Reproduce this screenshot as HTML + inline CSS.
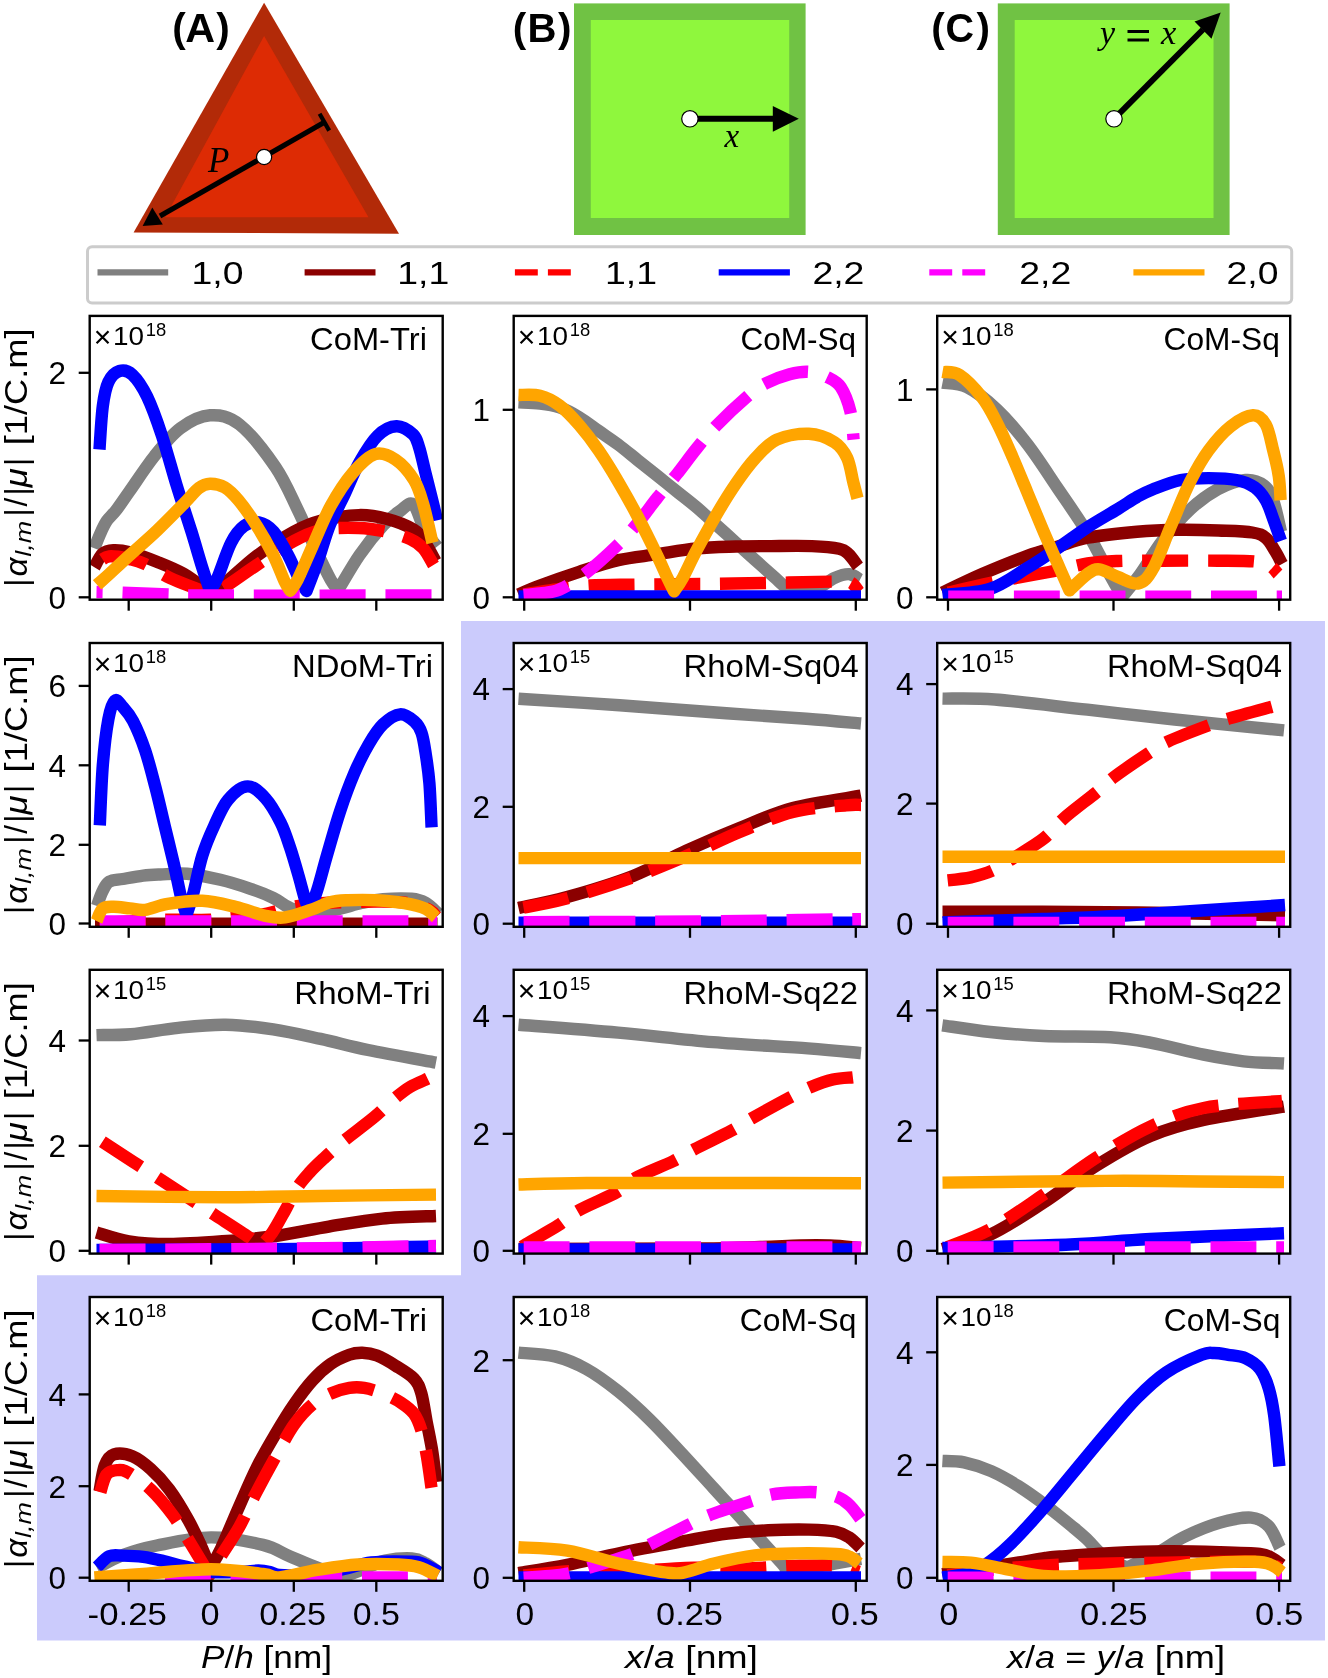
<!DOCTYPE html><html><head><meta charset="utf-8"><style>html,body{margin:0;padding:0;background:#fff;}svg{display:block;will-change:transform}</style></head><body>
<svg width="1328" height="1678" viewBox="0 0 1328 1678">
<rect x="0" y="0" width="1328" height="1678" fill="#ffffff"/>
<path d="M461,621 L1325,621 L1325,1640.5 L37,1640.5 L37,1275.3 L461,1275.3 Z" fill="#cbcbfc"/>
<path d="M264.1,2.7 L399,233.8 L133.6,232.4 Z" fill="#b22a08"/>
<path d="M264.1,36 L368.5,217.3 L165.2,217.3 Z" fill="#dd2b04"/>
<line x1="324.4" y1="122.3" x2="160" y2="216" stroke="#000" stroke-width="5.2"/>
<path d="M142.6,225.9 L152.3,207.5 L162.8,224.6 Z" fill="#000"/>
<line x1="319.6" y1="113.8" x2="329.2" y2="130.6" stroke="#000" stroke-width="4.2"/>
<circle cx="264.1" cy="157" r="7.6" fill="#fff" stroke="#000" stroke-width="1.2"/>
<text x="208" y="171.5" font-size="35" text-anchor="start" font-weight="normal" font-style="italic" font-family='"Liberation Serif", serif'>P</text>
<text x="172.3" y="41.7" font-size="40.5" text-anchor="start" font-weight="bold" font-style="normal" font-family='"Liberation Sans", sans-serif'>(</text>
<text x="185.2" y="41.7" font-size="40.5" text-anchor="start" font-weight="bold" font-style="normal" font-family='"Liberation Sans", sans-serif' textLength="29.8" lengthAdjust="spacingAndGlyphs">A</text>
<text x="216.3" y="41.7" font-size="40.5" text-anchor="start" font-weight="bold" font-style="normal" font-family='"Liberation Sans", sans-serif'>)</text>
<rect x="574" y="3.4" width="231.6" height="231.6" fill="#70c244"/>
<rect x="590.8" y="20" width="198.4" height="198" fill="#8ff73d"/>
<line x1="690" y1="118.8" x2="775" y2="118.8" stroke="#000" stroke-width="6"/>
<path d="M798.8,118.8 L772.8,106 L772.8,131.8 Z" fill="#000"/>
<circle cx="689.9" cy="118.8" r="8.2" fill="#fff" stroke="#000" stroke-width="1.2"/>
<text x="724.5" y="147" font-size="33" text-anchor="start" font-weight="normal" font-style="italic" font-family='"Liberation Serif", serif'>x</text>
<text x="512.7" y="41.7" font-size="40.5" text-anchor="start" font-weight="bold" font-style="normal" font-family='"Liberation Sans", sans-serif'>(</text>
<text x="527.5" y="41.7" font-size="40.5" text-anchor="start" font-weight="bold" font-style="normal" font-family='"Liberation Sans", sans-serif' textLength="29" lengthAdjust="spacingAndGlyphs">B</text>
<text x="558" y="41.7" font-size="40.5" text-anchor="start" font-weight="bold" font-style="normal" font-family='"Liberation Sans", sans-serif'>)</text>
<rect x="997.8" y="3.4" width="231.8" height="231.6" fill="#70c244"/>
<rect x="1014.7" y="20" width="198.8" height="198" fill="#8ff73d"/>
<line x1="1114" y1="118.8" x2="1203" y2="29.5" stroke="#000" stroke-width="6"/>
<path d="M1220.7,12.5 L1194.5,21.5 L1211.5,38.7 Z" fill="#000"/>
<circle cx="1114" cy="118.8" r="8.2" fill="#fff" stroke="#000" stroke-width="1.2"/>
<text x="1100" y="43.7" font-size="34" text-anchor="start" font-weight="normal" font-style="italic" font-family='"Liberation Serif", serif'>y</text>
<rect x="1127.5" y="30" width="21.5" height="3" fill="#000"/><rect x="1127.5" y="38.5" width="21.5" height="3" fill="#000"/>
<text x="1161" y="43.7" font-size="34.5" text-anchor="start" font-weight="normal" font-style="italic" font-family='"Liberation Serif", serif'>x</text>
<text x="931.2" y="41.7" font-size="40.5" text-anchor="start" font-weight="bold" font-style="normal" font-family='"Liberation Sans", sans-serif'>(</text>
<text x="945.5" y="41.7" font-size="40.5" text-anchor="start" font-weight="bold" font-style="normal" font-family='"Liberation Sans", sans-serif' textLength="28.5" lengthAdjust="spacingAndGlyphs">C</text>
<text x="976.5" y="41.7" font-size="40.5" text-anchor="start" font-weight="bold" font-style="normal" font-family='"Liberation Sans", sans-serif'>)</text>
<rect x="87.5" y="246.8" width="1204.2" height="56.2" rx="4.5" ry="4.5" fill="#fff" stroke="#cccccc" stroke-width="3"/>
<line x1="97.5" y1="272.3" x2="168.2" y2="272.3" stroke="#808080" stroke-width="6.2"/>
<text x="191.5" y="283.5" font-size="31.5" text-anchor="start" font-weight="normal" font-style="normal" font-family='"Liberation Sans", sans-serif' textLength="52" lengthAdjust="spacingAndGlyphs">1,0</text>
<line x1="304.6" y1="272.3" x2="375.5" y2="272.3" stroke="#8b0000" stroke-width="6.2"/>
<text x="397.3" y="283.5" font-size="31.5" text-anchor="start" font-weight="normal" font-style="normal" font-family='"Liberation Sans", sans-serif' textLength="52" lengthAdjust="spacingAndGlyphs">1,1</text>
<line x1="514.9" y1="272.3" x2="570.8" y2="272.3" stroke="#ff0000" stroke-width="6.2" stroke-dasharray="22.9 10.1"/>
<text x="605" y="283.5" font-size="31.5" text-anchor="start" font-weight="normal" font-style="normal" font-family='"Liberation Sans", sans-serif' textLength="52" lengthAdjust="spacingAndGlyphs">1,1</text>
<line x1="718.7" y1="272.3" x2="789.9" y2="272.3" stroke="#0000ff" stroke-width="6.2"/>
<text x="812.4" y="283.5" font-size="31.5" text-anchor="start" font-weight="normal" font-style="normal" font-family='"Liberation Sans", sans-serif' textLength="52" lengthAdjust="spacingAndGlyphs">2,2</text>
<line x1="929.3" y1="272.3" x2="985.3" y2="272.3" stroke="#ff00ff" stroke-width="6.2" stroke-dasharray="22.9 10.1"/>
<text x="1019.2" y="283.5" font-size="31.5" text-anchor="start" font-weight="normal" font-style="normal" font-family='"Liberation Sans", sans-serif' textLength="52" lengthAdjust="spacingAndGlyphs">2,2</text>
<line x1="1133.4" y1="272.3" x2="1204.5" y2="272.3" stroke="#ffa500" stroke-width="6.2"/>
<text x="1226.5" y="283.5" font-size="31.5" text-anchor="start" font-weight="normal" font-style="normal" font-family='"Liberation Sans", sans-serif' textLength="52" lengthAdjust="spacingAndGlyphs">2,0</text>
<clipPath id="cp00"><rect x="89.7" y="315.9" width="353" height="283.8"/></clipPath>
<rect x="89.7" y="315.9" width="353" height="283.8" fill="#fff"/>
<g clip-path="url(#cp00)" fill="none" stroke-width="12.4" stroke-linejoin="round">
<path d="M94.4,548.3 C95.3,546 97.8,539.2 99.8,534.7 C101.8,530.2 103.9,525.3 106.6,521.2 C109.3,517.1 112.2,515.3 116.1,510.3 C119.9,505.3 123.3,500.1 129.7,491 C136.1,481.9 146.1,466.5 154.5,456 C162.9,445.5 171.2,435 180.4,428.2 C189.7,421.4 200.2,415.9 210,415.3 C219.8,414.7 228.6,415.9 239.5,424.5 C250.4,433.1 265.7,452.8 275.4,467 C285.1,481.2 290.8,495.6 297.6,509.5 C304.4,523.4 310.6,538.5 316.1,550.2 C321.6,562 327.1,573.4 330.8,580 C334.5,586.6 337,588.3 338.2,590 C341.8,584.2 352.1,565.8 359.6,555 C367.1,544.2 376.7,532.4 383.4,525.1 C390.1,517.8 395,514.4 400,511 C405,507.6 409,501.1 413.2,504.5 C417.4,507.9 421.1,524.1 425.1,531.1 C429.1,538.1 435.1,544 437.1,546.6" stroke="#808080"/>
<path d="M94.4,567.3 C95.8,565 99.4,556.5 102.6,553.7 C105.8,550.9 108.9,550.5 113.4,550.3 C117.9,550.1 122.5,550.4 129.7,552.3 C136.9,554.2 147.8,558.2 156.8,561.8 C165.8,565.4 175,568.9 183.9,574 C192.8,579.1 205.7,589.6 210,592.7 C212.4,591.2 216.9,589.6 224.7,583.4 C232.5,577.2 245.4,564.3 256.9,555.7 C268.4,547.1 283.1,537.6 293.9,531.7 C304.7,525.9 310.8,523.4 321.6,520.6 C332.4,517.8 347.8,515.4 358.6,515.1 C369.4,514.8 377.1,516.3 386.3,518.8 C395.5,521.2 407.5,525.8 414,529.8 C420.5,533.8 421.5,537.6 425.1,542.8 C428.7,548 433.8,558.1 435.5,561.2" stroke="#8b0000"/>
<path d="M97.1,563.2 C99.1,562.1 103.9,557.1 109.3,556.4 C114.7,555.7 123.8,557.9 129.7,559.1 C135.6,560.4 137.8,560.7 144.6,563.9 C151.4,567.1 161.5,573.9 170.3,578.1 C179.1,582.3 190.8,586.3 197.4,589 C204,591.7 207.9,593.6 210,594.5 C212.4,593.3 216.9,592 224.7,587.1 C232.5,582.2 245.4,572.7 256.9,565 C268.4,557.3 283.1,546.9 293.9,541 C304.7,535.1 310.8,532 321.6,529.8 C332.4,527.6 347.8,527.7 358.6,528 C369.4,528.3 377.7,529.9 386.3,531.7 C394.9,533.6 404.2,536.3 410.3,539.1 C416.4,541.9 419.3,544 423.2,548.3 C427.1,552.6 431.8,562.2 433.5,565" stroke="#ff0000" stroke-dasharray="45.9 19.8" stroke-dashoffset="59"/>
<path d="M99.5,449.5 C100,442.3 101.3,417.4 102.8,406.1 C104.3,394.9 105.6,387.9 108.4,382 C111.2,376.1 115.4,372.2 119.4,371 C123.4,369.8 127.8,370.4 132.4,374.7 C137,379 142.3,386.6 147.2,396.8 C152.1,407 157,420.8 161.9,435.6 C166.8,450.4 171.8,469.5 176.7,485.5 C181.6,501.5 187.2,517.9 191.5,531.7 C195.8,545.6 199.5,558.8 202.6,568.6 C205.7,578.5 208.8,587.1 210,590.8 C211.2,588.6 213.9,585.9 217.4,577.9 C220.9,569.9 226.7,551.4 231.1,542.8 C235.5,534.2 239.4,529.5 244,526.1 C248.6,522.7 253.9,521.5 258.8,522.4 C263.7,523.3 268.7,526.2 273.6,531.7 C278.5,537.2 284.1,547.7 288.4,555.7 C292.7,563.7 296.4,573.8 299.4,579.7 C302.4,585.6 305.3,589.1 306.5,591 C308.4,586 314,571.9 317.9,560.9 C321.8,549.9 325.4,536 329.8,525.1 C334.2,514.2 339.1,505.9 344.1,495.4 C349.1,484.9 354,471.9 359.6,462 C365.2,452.1 371.4,441.8 377.5,435.8 C383.6,429.8 390.6,426.4 396.5,426.2 C402.4,426 409.4,431 413.2,434.6 C417,438.2 417.2,441.6 419.2,447.7 C421.2,453.8 423.1,463.6 425.1,471.5 C427.1,479.4 429.1,487.2 431.1,495.4 C433.1,503.5 436.1,516.2 437.1,520.4" stroke="#0000ff"/>
<path d="M96.5,592 C100.8,592.1 110.1,592.2 122,592.6 C133.9,593 153.3,594 168,594.5 C182.7,595 165.3,595.3 210,595.5 C254.7,595.7 398.3,595.5 436,595.5" stroke="#ff00ff" stroke-dasharray="45.9 19.8" stroke-dashoffset="39.6"/>
<path d="M97.1,584.9 C99.1,583.1 103.9,579 109.3,574 C114.7,569 121.8,562.3 129.7,555.1 C137.6,547.9 147.8,539.3 156.8,530.7 C165.8,522.1 176.9,510.7 183.9,503.6 C190.9,496.5 194.6,491.3 198.9,488 C203.2,484.7 205.7,483.8 210,483.7 C214.3,483.6 219.9,484.6 224.7,487.4 C229.4,490.2 233.1,493.9 238.5,500.3 C243.9,506.8 251,516.9 256.9,526.1 C262.8,535.3 269,546.5 273.6,555.7 C278.2,565 281.9,575.8 284.7,581.6 C287.5,587.5 289.3,589.3 290.2,590.8 C291.4,588.9 293.9,587.1 297.6,579.7 C301.3,572.3 306.9,558.8 312.4,546.5 C317.9,534.2 324,518.1 330.8,505.8 C337.6,493.5 345.6,481.2 353,472.6 C360.4,464 368.1,456.3 375.2,454.1 C382.3,451.9 389,455.3 395.5,459.6 C402,463.9 409.4,472.6 414,480 C418.6,487.4 420.1,493.5 423.2,504 C426.3,514.5 430.9,536.3 432.5,542.8" stroke="#ffa500"/>
</g>
<rect x="89.7" y="315.9" width="353" height="283.8" fill="none" stroke="#000" stroke-width="2.4"/>
<line x1="128.7" y1="599.7" x2="128.7" y2="610.7" stroke="#000" stroke-width="2.3"/>
<line x1="211.2" y1="599.7" x2="211.2" y2="610.7" stroke="#000" stroke-width="2.3"/>
<line x1="293.8" y1="599.7" x2="293.8" y2="610.7" stroke="#000" stroke-width="2.3"/>
<line x1="376.3" y1="599.7" x2="376.3" y2="610.7" stroke="#000" stroke-width="2.3"/>
<line x1="78.7" y1="597.3" x2="89.7" y2="597.3" stroke="#000" stroke-width="2.3"/>
<text x="65.9" y="608.6" font-size="31.5" text-anchor="end" font-weight="normal" font-style="normal" font-family='"Liberation Sans", sans-serif' textLength="17.5" lengthAdjust="spacingAndGlyphs">0</text>
<line x1="78.7" y1="372.8" x2="89.7" y2="372.8" stroke="#000" stroke-width="2.3"/>
<text x="65.9" y="384.1" font-size="31.5" text-anchor="end" font-weight="normal" font-style="normal" font-family='"Liberation Sans", sans-serif' textLength="17.5" lengthAdjust="spacingAndGlyphs">2</text>
<text x="310.1" y="349.9" font-size="30.5" text-anchor="start" font-weight="normal" font-style="normal" font-family='"Liberation Sans", sans-serif' textLength="116.8" lengthAdjust="spacingAndGlyphs">CoM-Tri</text>
<path d="M96.6,331.2 L108.5,343.2 M108.5,331.2 L96.6,343.2" stroke="#000" stroke-width="2.2" fill="none"/>
<text x="112.9" y="345.1" font-size="25.7" text-anchor="start" font-weight="normal" font-style="normal" font-family='"Liberation Sans", sans-serif' textLength="31" lengthAdjust="spacingAndGlyphs">10</text>
<text x="145.7" y="336.1" font-size="18.4" text-anchor="start" font-weight="normal" font-style="normal" font-family='"Liberation Sans", sans-serif' textLength="20.5" lengthAdjust="spacingAndGlyphs">18</text>
<clipPath id="cp01"><rect x="513.7" y="315.9" width="353" height="283.8"/></clipPath>
<rect x="513.7" y="315.9" width="353" height="283.8" fill="#fff"/>
<g clip-path="url(#cp01)" fill="none" stroke-width="12.4" stroke-linejoin="round">
<path d="M518.5,402.4 C522.1,402.6 533.1,402.7 540,403.5 C546.9,404.3 553.1,405.1 559.6,407.4 C566.1,409.7 572.7,413.3 579.2,417.2 C585.7,421.1 592.2,426.3 598.7,430.9 C605.2,435.5 611.8,439.7 618.3,444.6 C624.8,449.5 631.4,455.1 637.9,460.3 C644.4,465.5 651,470.7 657.5,475.9 C664,481.1 670.5,486.4 677,491.6 C683.5,496.8 690.1,501.8 696.6,507.3 C703.1,512.9 709.7,519 716.2,524.9 C722.7,530.8 729.3,536.6 735.8,542.5 C742.3,548.4 748.8,554.2 755.3,560.1 C761.8,566 769.7,573.1 774.9,577.7 C780.1,582.3 782.5,585.5 786.7,587.5 C790.9,589.5 795.1,589.8 800,590 C804.9,590.2 810.5,591 816.3,589 C822.1,587 829.2,580.4 834.7,577.9 C840.2,575.4 845.3,573.9 849.5,574.2 C853.7,574.5 858.2,578.8 860,579.7" stroke="#808080"/>
<path d="M518.5,594.5 C522.1,593 529.9,589.4 540,585.6 C550.1,581.8 566.2,576.1 579.2,571.9 C592.2,567.6 605.2,563 618.3,560.1 C631.3,557.2 644.5,556.2 657.5,554.2 C670.5,552.2 683.6,549.7 696.6,548.4 C709.6,547.1 723.3,546.9 735.8,546.5 C748.2,546.1 758.6,546.2 771.3,546.1 C784,546 800.7,545.7 812,546.1 C823.3,546.5 833,547.4 839.1,548.8 C845.2,550.1 845.4,551.3 848.6,554.2 C851.8,557.1 856.5,564.4 858.1,566.4" stroke="#8b0000"/>
<path d="M518.5,595.4 C525.4,594.3 548.1,590.6 560,589 C571.9,587.4 577.3,586.2 590,585.5 C602.7,584.8 617.7,584.9 636,584.6 C654.3,584.4 678.2,584.3 700,584 C721.8,583.7 745.2,583.4 767,583 C788.8,582.6 817.2,581.8 831,581.6 C844.8,581.4 845.3,580.3 850,582 C854.7,583.7 857.5,590.3 859,592" stroke="#ff0000" stroke-dasharray="45.9 19.8" stroke-dashoffset="60.5"/>
<path d="M518.5,596.5 L861,596.5" stroke="#0000ff"/>
<path d="M518.5,595.4 C522.1,595.1 533.1,594.4 540,593.4 C546.9,592.4 552.1,592.8 559.6,589.5 C567.1,586.2 575.2,581.3 585,573.8 C594.8,566.3 609.5,552.9 618.3,544.4 C627.1,535.9 631.4,530.7 637.9,522.9 C644.4,515.1 651,505.6 657.5,497.5 C664,489.4 670.5,482.2 677,474 C683.5,465.8 690.1,456.5 696.6,448.5 C703.1,440.5 707.3,434.9 716,426 C724.7,417.1 740.3,402.5 748.6,395.4 C756.9,388.3 759.1,386.8 765.9,383.3 C772.7,379.8 782.5,376.2 789.6,374.3 C796.8,372.4 802.4,371.3 808.8,371.8 C815.2,372.3 822.7,374.9 828,377.5 C833.3,380.1 837.1,381.5 840.8,387.1 C844.5,392.8 848.3,402.6 850.4,411.4 C852.5,420.1 853.1,434.9 853.6,439.6" stroke="#ff00ff" stroke-dasharray="45.9 19.8" stroke-dashoffset="60.5"/>
<path d="M518.5,395 C522.1,395.1 533.1,393.9 540,395.7 C546.9,397.4 553.1,400.6 559.6,405.5 C566.1,410.4 572.7,417.5 579.2,425 C585.7,432.5 592.2,441 598.7,450.5 C605.2,460 611.8,470.7 618.3,481.8 C624.8,492.9 631.4,504.6 637.9,517 C644.4,529.4 652.6,546.1 657.5,556.2 C662.4,566.3 664.5,571.8 667.3,577.7 C670.1,583.6 673,589.1 674.1,591.4 C675.6,589.1 679.1,584.6 682.9,577.7 C686.6,570.9 691,560.7 696.6,550.3 C702.2,539.9 709.7,526.2 716.2,515.1 C722.7,504 729.3,493.3 735.8,483.8 C742.3,474.3 748.5,465.7 755.3,458.3 C762.1,450.9 767.9,443.7 776.8,439.6 C785.7,435.5 799.2,433.4 808.8,433.8 C818.4,434.2 828,438.2 834.4,442.2 C840.8,446.2 844.1,451.4 847.2,458 C850.3,464.6 851.5,475.1 853.2,481.8 C854.9,488.5 856.8,495.6 857.5,498.4" stroke="#ffa500"/>
</g>
<rect x="513.7" y="315.9" width="353" height="283.8" fill="none" stroke="#000" stroke-width="2.4"/>
<line x1="524.2" y1="599.7" x2="524.2" y2="610.7" stroke="#000" stroke-width="2.3"/>
<line x1="690" y1="599.7" x2="690" y2="610.7" stroke="#000" stroke-width="2.3"/>
<line x1="855.8" y1="599.7" x2="855.8" y2="610.7" stroke="#000" stroke-width="2.3"/>
<line x1="502.7" y1="597.3" x2="513.7" y2="597.3" stroke="#000" stroke-width="2.3"/>
<text x="489.9" y="608.6" font-size="31.5" text-anchor="end" font-weight="normal" font-style="normal" font-family='"Liberation Sans", sans-serif' textLength="17.5" lengthAdjust="spacingAndGlyphs">0</text>
<line x1="502.7" y1="409.8" x2="513.7" y2="409.8" stroke="#000" stroke-width="2.3"/>
<text x="489.9" y="421.1" font-size="31.5" text-anchor="end" font-weight="normal" font-style="normal" font-family='"Liberation Sans", sans-serif' textLength="17.5" lengthAdjust="spacingAndGlyphs">1</text>
<text x="740.4" y="349.9" font-size="30.5" text-anchor="start" font-weight="normal" font-style="normal" font-family='"Liberation Sans", sans-serif' textLength="115.7" lengthAdjust="spacingAndGlyphs">CoM-Sq</text>
<path d="M520.6,331.2 L532.5,343.2 M532.5,331.2 L520.6,343.2" stroke="#000" stroke-width="2.2" fill="none"/>
<text x="536.9" y="345.1" font-size="25.7" text-anchor="start" font-weight="normal" font-style="normal" font-family='"Liberation Sans", sans-serif' textLength="31" lengthAdjust="spacingAndGlyphs">10</text>
<text x="569.7" y="336.1" font-size="18.4" text-anchor="start" font-weight="normal" font-style="normal" font-family='"Liberation Sans", sans-serif' textLength="20.5" lengthAdjust="spacingAndGlyphs">18</text>
<clipPath id="cp02"><rect x="937.2" y="315.9" width="353" height="283.8"/></clipPath>
<rect x="937.2" y="315.9" width="353" height="283.8" fill="#fff"/>
<g clip-path="url(#cp02)" fill="none" stroke-width="12.4" stroke-linejoin="round">
<path d="M942.5,382.6 C946.6,383.4 958,382.6 967.1,387.1 C976.2,391.6 987.2,400.2 997.2,409.7 C1007.2,419.2 1017.4,431.2 1027.4,444.3 C1037.5,457.4 1047.5,473.2 1057.5,488 C1067.5,502.8 1078.8,518.6 1087.6,533.2 C1096.4,547.8 1104.4,564.9 1110.2,575.5 C1116,586.1 1120.2,593.1 1122.2,596.6 C1125.2,592.9 1133.5,583.5 1140.2,574.2 C1146.9,564.9 1154.1,551.7 1162.4,540.9 C1170.7,530.1 1180.9,518.1 1190.1,509.5 C1199.3,500.9 1208.6,494.1 1217.8,489.2 C1227,484.3 1237.8,480.6 1245.5,480 C1253.2,479.4 1259.4,482.1 1264,485.5 C1268.6,488.9 1270.4,492.6 1273.2,500.3 C1276,508 1279.7,526.5 1281,531.7" stroke="#808080"/>
<path d="M942.5,592.5 C949.1,589.4 968.1,580 982.2,573.9 C996.4,567.8 1014.9,560.3 1027.4,555.8 C1040,551.3 1047.5,549.7 1057.5,546.7 C1067.5,543.7 1074.3,540.2 1087.6,537.7 C1100.8,535.2 1122,533 1137,531.7 C1152,530.4 1164.2,530 1177.8,529.8 C1191.4,529.6 1206,530 1218.4,530.5 C1230.8,531 1244.4,531.2 1252.3,532.5 C1260.2,533.8 1262.1,534.8 1265.9,538 C1269.8,541.2 1272.7,547.2 1275.4,551.5 C1278.1,555.8 1280.9,561.9 1282,564" stroke="#8b0000"/>
<path d="M942.5,594 C950.4,592.2 972,586.7 989.7,583 C1007.5,579.3 1032.7,575.2 1049,572 C1065.3,568.8 1076.1,565.3 1087.6,563.5 C1099,561.7 1105.2,561.5 1117.7,561 C1130.2,560.5 1145.7,560.8 1162.4,560.7 C1179.1,560.7 1202.4,560.6 1217.8,560.7 C1233.2,560.8 1246.3,560.6 1255,561.5 C1263.7,562.4 1266.2,563.9 1270,566 C1273.8,568.1 1276.7,572.7 1278,574" stroke="#ff0000" stroke-dasharray="45.9 19.8" stroke-dashoffset="59.7"/>
<path d="M942.5,595 C950.4,594 975.6,593.5 989.7,589 C1003.9,584.5 1016.1,574.6 1027.4,567.8 C1038.7,561 1047.5,555.1 1057.5,548.3 C1067.5,541.5 1077.6,533.7 1087.6,527.2 C1097.6,520.7 1109.5,514.1 1117.7,509.1 C1125.9,504.1 1131.1,500.3 1137,497 C1142.9,493.7 1145.8,492 1153.1,489.2 C1160.4,486.4 1171.5,481.9 1180.8,480 C1190,478.1 1199.3,478.1 1208.6,478.1 C1217.8,478.1 1228.6,478.4 1236.3,480 C1244,481.6 1249.8,484 1254.7,487.4 C1259.6,490.8 1262.7,495.1 1265.8,500.3 C1268.9,505.5 1270.7,512 1273.2,518.8 C1275.7,525.6 1279.7,537.2 1281,540.9" stroke="#0000ff"/>
<path d="M942.5,596.8 L1282,596.8" stroke="#ff00ff" stroke-dasharray="45.9 19.8" stroke-dashoffset="60"/>
<path d="M942.5,372 C945.4,372.5 953,370.7 959.6,375 C966.2,379.3 975.9,389.6 982.2,397.6 C988.5,405.7 992.2,413.5 997.2,423.3 C1002.2,433.1 1007.3,444.9 1012.3,456.4 C1017.3,467.9 1022.4,480.4 1027.4,492.5 C1032.4,504.6 1037.4,516.9 1042.4,528.7 C1047.4,540.5 1053,553 1057.5,563.3 C1062,573.6 1067.5,585.9 1069.5,590.4 C1072.5,587.6 1082.6,577.4 1087.6,573.9 C1092.6,570.4 1094.6,568.8 1099.6,569.3 C1104.6,569.8 1111.2,574.5 1117.7,576.9 C1124.2,579.2 1132.5,584.8 1138.4,583.4 C1144.3,582 1147.6,578.5 1153.1,568.6 C1158.6,558.8 1165.4,538.8 1171.6,524.3 C1177.8,509.8 1183.9,494.1 1190.1,481.8 C1196.3,469.5 1201.8,459.6 1208.6,450.4 C1215.4,441.2 1223.3,432.2 1230.7,426.4 C1238.1,420.5 1247.1,415.6 1252.9,415.3 C1258.8,415 1262.4,418.6 1265.8,424.5 C1269.2,430.4 1271,441.8 1273.2,450.4 C1275.4,459 1277.6,468 1278.8,476.3 C1280,484.6 1280.3,496.3 1280.6,500.3" stroke="#ffa500"/>
</g>
<rect x="937.2" y="315.9" width="353" height="283.8" fill="none" stroke="#000" stroke-width="2.4"/>
<line x1="948" y1="599.7" x2="948" y2="610.7" stroke="#000" stroke-width="2.3"/>
<line x1="1113.5" y1="599.7" x2="1113.5" y2="610.7" stroke="#000" stroke-width="2.3"/>
<line x1="1279.1" y1="599.7" x2="1279.1" y2="610.7" stroke="#000" stroke-width="2.3"/>
<line x1="926.2" y1="597.3" x2="937.2" y2="597.3" stroke="#000" stroke-width="2.3"/>
<text x="913.4" y="608.6" font-size="31.5" text-anchor="end" font-weight="normal" font-style="normal" font-family='"Liberation Sans", sans-serif' textLength="17.5" lengthAdjust="spacingAndGlyphs">0</text>
<line x1="926.2" y1="389.4" x2="937.2" y2="389.4" stroke="#000" stroke-width="2.3"/>
<text x="913.4" y="400.7" font-size="31.5" text-anchor="end" font-weight="normal" font-style="normal" font-family='"Liberation Sans", sans-serif' textLength="17.5" lengthAdjust="spacingAndGlyphs">1</text>
<text x="1163.6" y="349.9" font-size="30.5" text-anchor="start" font-weight="normal" font-style="normal" font-family='"Liberation Sans", sans-serif' textLength="116.2" lengthAdjust="spacingAndGlyphs">CoM-Sq</text>
<path d="M944.1,331.2 L956,343.2 M956,331.2 L944.1,343.2" stroke="#000" stroke-width="2.2" fill="none"/>
<text x="960.4" y="345.1" font-size="25.7" text-anchor="start" font-weight="normal" font-style="normal" font-family='"Liberation Sans", sans-serif' textLength="31" lengthAdjust="spacingAndGlyphs">10</text>
<text x="993.2" y="336.1" font-size="18.4" text-anchor="start" font-weight="normal" font-style="normal" font-family='"Liberation Sans", sans-serif' textLength="20.5" lengthAdjust="spacingAndGlyphs">18</text>
<clipPath id="cp10"><rect x="89.7" y="643" width="353" height="283.8"/></clipPath>
<rect x="89.7" y="643" width="353" height="283.8" fill="#fff"/>
<g clip-path="url(#cp10)" fill="none" stroke-width="12.4" stroke-linejoin="round">
<path d="M97,906 C97.9,903.5 100.5,895.2 102.6,891.2 C104.6,887.2 105.9,883.7 109.3,881.7 C112.7,879.7 117.2,880 122.9,879 C128.6,878 137,876.4 143.2,875.6 C149.4,874.9 152.8,874.8 160.1,874.5 C167.4,874.2 177.1,872.8 187.2,873.7 C197.2,874.6 209.8,877.3 220.4,879.8 C231,882.3 241.7,885.8 250.5,888.8 C259.3,891.8 266.8,894.8 273.1,897.8 C279.4,900.8 283,904.5 288.1,906.9 C293.2,909.3 296.5,911.5 304,912 C311.5,912.5 323.3,911.7 332.9,910.2 C342.5,908.7 353.1,904.8 361.5,903 C369.9,901.2 374.7,899.9 383,899.2 C391.3,898.5 404.4,898.2 411.5,898.8 C418.6,899.4 421.3,900.5 425.8,903 C430.3,905.5 436.4,912.2 438.5,914" stroke="#808080"/>
<path d="M95,923.8 L437.5,923.8" stroke="#8b0000"/>
<path d="M96.5,923 C103.8,922.7 128.6,921.5 140,921 C151.4,920.5 153.3,919.9 165,919.7 C176.7,919.5 197.5,920.2 210,919.7 C222.5,919.2 230.5,918 240,917 C249.5,916 257.9,915.2 267,913.5 C276.1,911.8 284.2,908.4 294.3,906.6 C304.4,904.8 313.4,903.6 327.9,902.8 C342.4,902 367.8,901.5 381.5,901.6 C395.2,901.7 401.9,902 410,903.4 C418.1,904.8 425.7,908 430.1,910.2 C434.5,912.5 435.4,915.8 436.5,916.9" stroke="#ff0000" stroke-dasharray="45.9 19.8" stroke-dashoffset="62.5"/>
<path d="M99.8,825.4 C100.3,815.4 101.4,783 102.8,765.3 C104.2,747.6 106.4,729.9 108.4,719.1 C110.4,708.3 112.5,702.9 114.8,700.7 C117.1,698.5 119,702.6 122,706 C125,709.4 129.2,713.6 133,721 C136.8,728.4 141.3,739.1 145.1,750.2 C148.9,761.4 152.3,775.4 155.6,787.9 C158.8,800.4 161.6,813 164.6,825.5 C167.6,838 170.9,851.2 173.7,863.2 C176.5,875.2 179.1,889.2 181.2,897.8 C183.3,906.4 185.6,912.1 186.5,915 C187.6,911.4 190.7,903.2 193.3,893.3 C195.9,883.4 198.8,867 202.3,855.7 C205.8,844.4 210,834.8 214.3,825.5 C218.6,816.2 222.4,806.4 227.9,799.9 C233.4,793.4 241.2,786.6 247.5,786.4 C253.8,786.1 260,792.4 265.5,798.4 C271,804.4 276.5,814.4 280.6,822.5 C284.7,830.6 287,838.4 290,847.3 C293,856.2 296,866.8 298.6,875.9 C301.2,885 303.8,895.9 305.7,901.6 C307.6,907.3 309.3,908.8 310,910.2 C311.2,906.9 314.3,899.5 317.2,890.2 C320.1,880.9 323.4,867.6 327.2,854.5 C331,841.4 335.5,825.1 340,811.5 C344.5,797.9 349.6,784.1 354.4,772.9 C359.2,761.7 363.9,752.4 368.7,744.3 C373.5,736.2 377.8,729.3 383,724.3 C388.2,719.3 394.9,714.8 400.1,714.3 C405.3,713.8 410.8,718.4 414.4,721.5 C418,724.6 419.7,727.4 421.6,732.9 C423.5,738.4 424.5,746 425.8,754.4 C427.1,762.8 428.4,770.9 429.4,783 C430.4,795.1 431.2,819.9 431.6,827.3" stroke="#0000ff"/>
<path d="M96.5,921.5 L437,921.5" stroke="#ff00ff" stroke-dasharray="45.9 19.8" stroke-dashoffset="62.5"/>
<path d="M96.6,921 C97.6,919 99.8,911.2 102.6,908.8 C105.4,906.4 108.8,906.9 113.4,906.8 C118,906.7 124.7,907.9 130,908.4 C135.3,908.9 138.8,910.6 145.1,909.9 C151.4,909.1 158.1,905.4 167.6,903.9 C177.1,902.4 191,900.3 202.3,900.8 C213.6,901.3 224.9,904.4 235.4,906.9 C245.9,909.4 257.2,914.1 265.5,915.9 C273.8,917.6 277.6,918.4 285.1,917.4 C292.6,916.4 303.2,912.4 310.7,909.9 C318.2,907.4 323.9,903.9 330,902.3 C336.1,900.7 339.6,900.6 347.2,900.2 C354.8,899.9 366.3,899.7 375.8,900.2 C385.3,900.7 396.1,901.7 404.4,903.1 C412.7,904.5 420.6,906.4 425.8,908.8 C431.1,911.2 434.2,916 435.9,917.4" stroke="#ffa500"/>
</g>
<rect x="89.7" y="643" width="353" height="283.8" fill="none" stroke="#000" stroke-width="2.4"/>
<line x1="128.7" y1="926.8" x2="128.7" y2="937.8" stroke="#000" stroke-width="2.3"/>
<line x1="211.2" y1="926.8" x2="211.2" y2="937.8" stroke="#000" stroke-width="2.3"/>
<line x1="293.8" y1="926.8" x2="293.8" y2="937.8" stroke="#000" stroke-width="2.3"/>
<line x1="376.3" y1="926.8" x2="376.3" y2="937.8" stroke="#000" stroke-width="2.3"/>
<line x1="78.7" y1="923.5" x2="89.7" y2="923.5" stroke="#000" stroke-width="2.3"/>
<text x="65.9" y="934.8" font-size="31.5" text-anchor="end" font-weight="normal" font-style="normal" font-family='"Liberation Sans", sans-serif' textLength="17.5" lengthAdjust="spacingAndGlyphs">0</text>
<line x1="78.7" y1="844.8" x2="89.7" y2="844.8" stroke="#000" stroke-width="2.3"/>
<text x="65.9" y="856.1" font-size="31.5" text-anchor="end" font-weight="normal" font-style="normal" font-family='"Liberation Sans", sans-serif' textLength="17.5" lengthAdjust="spacingAndGlyphs">2</text>
<line x1="78.7" y1="765.3" x2="89.7" y2="765.3" stroke="#000" stroke-width="2.3"/>
<text x="65.9" y="776.6" font-size="31.5" text-anchor="end" font-weight="normal" font-style="normal" font-family='"Liberation Sans", sans-serif' textLength="17.5" lengthAdjust="spacingAndGlyphs">4</text>
<line x1="78.7" y1="685.9" x2="89.7" y2="685.9" stroke="#000" stroke-width="2.3"/>
<text x="65.9" y="697.2" font-size="31.5" text-anchor="end" font-weight="normal" font-style="normal" font-family='"Liberation Sans", sans-serif' textLength="17.5" lengthAdjust="spacingAndGlyphs">6</text>
<text x="292" y="677" font-size="30.5" text-anchor="start" font-weight="normal" font-style="normal" font-family='"Liberation Sans", sans-serif' textLength="141.1" lengthAdjust="spacingAndGlyphs">NDoM-Tri</text>
<path d="M96.6,658.3 L108.5,670.3 M108.5,658.3 L96.6,670.3" stroke="#000" stroke-width="2.2" fill="none"/>
<text x="112.9" y="672.2" font-size="25.7" text-anchor="start" font-weight="normal" font-style="normal" font-family='"Liberation Sans", sans-serif' textLength="31" lengthAdjust="spacingAndGlyphs">10</text>
<text x="145.7" y="663.2" font-size="18.4" text-anchor="start" font-weight="normal" font-style="normal" font-family='"Liberation Sans", sans-serif' textLength="20.5" lengthAdjust="spacingAndGlyphs">18</text>
<clipPath id="cp11"><rect x="513.7" y="643" width="353" height="283.8"/></clipPath>
<rect x="513.7" y="643" width="353" height="283.8" fill="#fff"/>
<g clip-path="url(#cp11)" fill="none" stroke-width="12.4" stroke-linejoin="round">
<path d="M518.5,698.7 C535.4,699.8 585,702.9 619.6,705.3 C654.2,707.7 695.2,711.1 726.3,713.3 C757.4,715.5 783.8,717 806.3,718.7 C828.8,720.4 851.9,722.7 861,723.5" stroke="#808080"/>
<path d="M518.5,908 C526.5,906.2 547.2,902.6 566.3,897.3 C585.4,892 613,883.8 633,876 C653,868.2 668.5,858.6 686.3,850.6 C704.1,842.6 721.8,835.1 739.6,828 C757.4,820.9 772.7,813.4 792.9,808 C813.1,802.6 849.6,797.8 861,795.7" stroke="#8b0000"/>
<path d="M518.5,908.5 C526.5,906.9 547.2,903.8 566.3,898.6 C585.4,893.4 613,884.4 633,877.3 C653,870.2 668.5,863.5 686.3,856 C704.1,848.5 721.8,839.3 739.6,832 C757.4,824.7 775.1,816.5 792.9,812 C810.7,807.5 834.9,806.5 846.2,805.3 C857.6,804.1 858.5,805 861,805" stroke="#ff0000" stroke-dasharray="45.9 19.8" stroke-dashoffset="60.5"/>
<path d="M518.5,922.7 L861,922.7" stroke="#0000ff"/>
<path d="M518.5,922.2 C548.8,922.1 653.1,921.9 700,921.5 C746.9,921.1 773.2,920.4 800,920 C826.8,919.6 850.8,919.3 861,919.2" stroke="#ff00ff" stroke-dasharray="45.9 19.8" stroke-dashoffset="60.5"/>
<path d="M518.5,858.1 L861,858.1" stroke="#ffa500"/>
</g>
<rect x="513.7" y="643" width="353" height="283.8" fill="none" stroke="#000" stroke-width="2.4"/>
<line x1="524.2" y1="926.8" x2="524.2" y2="937.8" stroke="#000" stroke-width="2.3"/>
<line x1="690" y1="926.8" x2="690" y2="937.8" stroke="#000" stroke-width="2.3"/>
<line x1="855.8" y1="926.8" x2="855.8" y2="937.8" stroke="#000" stroke-width="2.3"/>
<line x1="502.7" y1="923.7" x2="513.7" y2="923.7" stroke="#000" stroke-width="2.3"/>
<text x="489.9" y="935" font-size="31.5" text-anchor="end" font-weight="normal" font-style="normal" font-family='"Liberation Sans", sans-serif' textLength="17.5" lengthAdjust="spacingAndGlyphs">0</text>
<line x1="502.7" y1="806.8" x2="513.7" y2="806.8" stroke="#000" stroke-width="2.3"/>
<text x="489.9" y="818.1" font-size="31.5" text-anchor="end" font-weight="normal" font-style="normal" font-family='"Liberation Sans", sans-serif' textLength="17.5" lengthAdjust="spacingAndGlyphs">2</text>
<line x1="502.7" y1="689.1" x2="513.7" y2="689.1" stroke="#000" stroke-width="2.3"/>
<text x="489.9" y="700.4" font-size="31.5" text-anchor="end" font-weight="normal" font-style="normal" font-family='"Liberation Sans", sans-serif' textLength="17.5" lengthAdjust="spacingAndGlyphs">4</text>
<text x="683.5" y="677" font-size="30.5" text-anchor="start" font-weight="normal" font-style="normal" font-family='"Liberation Sans", sans-serif' textLength="175.3" lengthAdjust="spacingAndGlyphs">RhoM-Sq04</text>
<path d="M520.6,658.3 L532.5,670.3 M532.5,658.3 L520.6,670.3" stroke="#000" stroke-width="2.2" fill="none"/>
<text x="536.9" y="672.2" font-size="25.7" text-anchor="start" font-weight="normal" font-style="normal" font-family='"Liberation Sans", sans-serif' textLength="31" lengthAdjust="spacingAndGlyphs">10</text>
<text x="569.7" y="663.2" font-size="18.4" text-anchor="start" font-weight="normal" font-style="normal" font-family='"Liberation Sans", sans-serif' textLength="20.5" lengthAdjust="spacingAndGlyphs">15</text>
<clipPath id="cp12"><rect x="937.2" y="643" width="353" height="283.8"/></clipPath>
<rect x="937.2" y="643" width="353" height="283.8" fill="#fff"/>
<g clip-path="url(#cp12)" fill="none" stroke-width="12.4" stroke-linejoin="round">
<path d="M942.5,698.6 C951.2,698.8 970.6,697.6 994.7,699.5 C1018.9,701.4 1057.4,706.4 1087.4,709.7 C1117.4,713 1141.9,716 1174.7,719.5 C1207.5,723 1265.8,728.6 1284,730.4" stroke="#808080"/>
<path d="M942.5,911.8 C959.1,911.8 1009.7,911.7 1042.1,911.8 C1074.5,911.9 1105.4,912.1 1137,912.5 C1168.6,912.9 1207.2,913.8 1231.9,914.3 C1256.6,914.8 1276.2,915.1 1285,915.3" stroke="#8b0000"/>
<path d="M942.5,881 C947.2,880.4 962.5,879 970.9,877.3 C979.2,875.5 985.6,873.7 992.6,870.5 C999.6,867.3 1004.6,863.5 1013.1,858.2 C1021.6,852.9 1035.3,845.1 1043.7,838.5 C1052.1,831.9 1054.6,826.4 1063.3,818.8 C1072,811.1 1087.7,799.5 1096.1,792.6 C1104.5,785.7 1104.9,784 1113.6,777.4 C1122.3,770.8 1139.4,759.3 1148.5,753.3 C1157.6,747.3 1158,746 1168.2,741.3 C1178.4,736.6 1199.5,728.7 1209.7,724.9 C1219.9,721.1 1218.8,721.5 1229.3,718.4 C1239.8,715.3 1265.7,708.4 1273,706.4" stroke="#ff0000" stroke-dasharray="45.9 19.8" stroke-dashoffset="60.5"/>
<path d="M942.5,922.5 C959.1,921.9 1013,920.1 1042.1,919 C1071.2,917.9 1085.4,917.8 1117,916 C1148.6,914.2 1203.9,910.3 1231.9,908.5 C1259.9,906.7 1276.2,905.6 1285,905" stroke="#0000ff"/>
<path d="M942.5,923 L1285,923" stroke="#ff00ff" stroke-dasharray="45.9 19.8" stroke-dashoffset="60.5"/>
<path d="M942.5,856.7 L1285,856.7" stroke="#ffa500"/>
</g>
<rect x="937.2" y="643" width="353" height="283.8" fill="none" stroke="#000" stroke-width="2.4"/>
<line x1="948" y1="926.8" x2="948" y2="937.8" stroke="#000" stroke-width="2.3"/>
<line x1="1113.5" y1="926.8" x2="1113.5" y2="937.8" stroke="#000" stroke-width="2.3"/>
<line x1="1279.1" y1="926.8" x2="1279.1" y2="937.8" stroke="#000" stroke-width="2.3"/>
<line x1="926.2" y1="923.7" x2="937.2" y2="923.7" stroke="#000" stroke-width="2.3"/>
<text x="913.4" y="935" font-size="31.5" text-anchor="end" font-weight="normal" font-style="normal" font-family='"Liberation Sans", sans-serif' textLength="17.5" lengthAdjust="spacingAndGlyphs">0</text>
<line x1="926.2" y1="803.6" x2="937.2" y2="803.6" stroke="#000" stroke-width="2.3"/>
<text x="913.4" y="814.9" font-size="31.5" text-anchor="end" font-weight="normal" font-style="normal" font-family='"Liberation Sans", sans-serif' textLength="17.5" lengthAdjust="spacingAndGlyphs">2</text>
<line x1="926.2" y1="684.1" x2="937.2" y2="684.1" stroke="#000" stroke-width="2.3"/>
<text x="913.4" y="695.4" font-size="31.5" text-anchor="end" font-weight="normal" font-style="normal" font-family='"Liberation Sans", sans-serif' textLength="17.5" lengthAdjust="spacingAndGlyphs">4</text>
<text x="1106.9" y="677" font-size="30.5" text-anchor="start" font-weight="normal" font-style="normal" font-family='"Liberation Sans", sans-serif' textLength="175" lengthAdjust="spacingAndGlyphs">RhoM-Sq04</text>
<path d="M944.1,658.3 L956,670.3 M956,658.3 L944.1,670.3" stroke="#000" stroke-width="2.2" fill="none"/>
<text x="960.4" y="672.2" font-size="25.7" text-anchor="start" font-weight="normal" font-style="normal" font-family='"Liberation Sans", sans-serif' textLength="31" lengthAdjust="spacingAndGlyphs">10</text>
<text x="993.2" y="663.2" font-size="18.4" text-anchor="start" font-weight="normal" font-style="normal" font-family='"Liberation Sans", sans-serif' textLength="20.5" lengthAdjust="spacingAndGlyphs">15</text>
<clipPath id="cp20"><rect x="89.7" y="969.8" width="353" height="283.8"/></clipPath>
<rect x="89.7" y="969.8" width="353" height="283.8" fill="#fff"/>
<g clip-path="url(#cp20)" fill="none" stroke-width="12.4" stroke-linejoin="round">
<path d="M96.5,1035.1 C102.2,1034.9 117.3,1035.4 130.9,1034.2 C144.5,1033 162.5,1029.4 178.3,1027.8 C194.1,1026.2 210,1024.4 225.8,1024.7 C241.6,1025 257.4,1027 273.2,1029.4 C289,1031.8 304.8,1035.5 320.6,1038.9 C336.4,1042.3 348.9,1046 368.1,1050 C387.3,1054 424.7,1060.5 436,1062.6" stroke="#808080"/>
<path d="M96.5,1232.5 C101.9,1234 116.9,1239.4 129,1241.3 C141.1,1243.2 153.4,1244 169,1244 C184.6,1244 204.5,1242.6 222.3,1241.3 C240.1,1240 257.8,1238.5 275.6,1236 C293.4,1233.5 311.1,1229.5 328.9,1226.6 C346.7,1223.7 364.4,1220.4 382.3,1218.6 C400.2,1216.8 427.1,1216.4 436,1216" stroke="#8b0000"/>
<path d="M99.7,1140 C105.9,1144 121.9,1154.5 137,1164.3 C152.1,1174.1 177.4,1190.6 190.3,1199 C203.2,1207.4 204.5,1208.2 214.3,1214.6 C224.1,1221 241.4,1231.9 249,1237.3 C256.6,1242.7 258.2,1245.4 260,1247 C262,1244.7 267.8,1239.1 272,1233 C276.2,1226.9 280.8,1218.1 285,1210.6 C289.2,1203.1 292.8,1194.4 297,1188 C301.2,1181.6 305.6,1176.9 310,1172 C314.4,1167.1 318.2,1163.6 323.6,1158.6 C329,1153.6 333.9,1148.9 342.3,1142 C350.8,1135.1 365.9,1124 374.3,1117 C382.7,1110 386.9,1105 392.9,1100 C398.8,1095 404.2,1090.5 410,1087 C415.8,1083.5 424.7,1080.1 427.6,1078.7" stroke="#ff0000" stroke-dasharray="45.9 19.8" stroke-dashoffset="62.5"/>
<path d="M96.5,1250 C130.4,1249.8 243.4,1249.6 300,1249 C356.6,1248.4 413.3,1246.9 436,1246.5" stroke="#0000ff"/>
<path d="M96.5,1250 C130.4,1249.8 243.4,1249.2 300,1248.5 C356.6,1247.8 413.3,1246.4 436,1246" stroke="#ff00ff" stroke-dasharray="45.9 19.8" stroke-dashoffset="62.5"/>
<path d="M96.5,1196 C117.5,1196.2 185,1197.3 222.3,1197.3 C259.7,1197.3 285,1196.5 320.6,1196 C356.2,1195.5 416.8,1194.8 436,1194.6" stroke="#ffa500"/>
</g>
<rect x="89.7" y="969.8" width="353" height="283.8" fill="none" stroke="#000" stroke-width="2.4"/>
<line x1="128.7" y1="1253.6" x2="128.7" y2="1264.6" stroke="#000" stroke-width="2.3"/>
<line x1="211.2" y1="1253.6" x2="211.2" y2="1264.6" stroke="#000" stroke-width="2.3"/>
<line x1="293.8" y1="1253.6" x2="293.8" y2="1264.6" stroke="#000" stroke-width="2.3"/>
<line x1="376.3" y1="1253.6" x2="376.3" y2="1264.6" stroke="#000" stroke-width="2.3"/>
<line x1="78.7" y1="1250.8" x2="89.7" y2="1250.8" stroke="#000" stroke-width="2.3"/>
<text x="65.9" y="1262.1" font-size="31.5" text-anchor="end" font-weight="normal" font-style="normal" font-family='"Liberation Sans", sans-serif' textLength="17.5" lengthAdjust="spacingAndGlyphs">0</text>
<line x1="78.7" y1="1145.8" x2="89.7" y2="1145.8" stroke="#000" stroke-width="2.3"/>
<text x="65.9" y="1157.1" font-size="31.5" text-anchor="end" font-weight="normal" font-style="normal" font-family='"Liberation Sans", sans-serif' textLength="17.5" lengthAdjust="spacingAndGlyphs">2</text>
<line x1="78.7" y1="1040.5" x2="89.7" y2="1040.5" stroke="#000" stroke-width="2.3"/>
<text x="65.9" y="1051.8" font-size="31.5" text-anchor="end" font-weight="normal" font-style="normal" font-family='"Liberation Sans", sans-serif' textLength="17.5" lengthAdjust="spacingAndGlyphs">4</text>
<text x="294.3" y="1003.8" font-size="30.5" text-anchor="start" font-weight="normal" font-style="normal" font-family='"Liberation Sans", sans-serif' textLength="136.4" lengthAdjust="spacingAndGlyphs">RhoM-Tri</text>
<path d="M96.6,985.1 L108.5,997.1 M108.5,985.1 L96.6,997.1" stroke="#000" stroke-width="2.2" fill="none"/>
<text x="112.9" y="999" font-size="25.7" text-anchor="start" font-weight="normal" font-style="normal" font-family='"Liberation Sans", sans-serif' textLength="31" lengthAdjust="spacingAndGlyphs">10</text>
<text x="145.7" y="990" font-size="18.4" text-anchor="start" font-weight="normal" font-style="normal" font-family='"Liberation Sans", sans-serif' textLength="20.5" lengthAdjust="spacingAndGlyphs">15</text>
<clipPath id="cp21"><rect x="513.7" y="969.8" width="353" height="283.8"/></clipPath>
<rect x="513.7" y="969.8" width="353" height="283.8" fill="#fff"/>
<g clip-path="url(#cp21)" fill="none" stroke-width="12.4" stroke-linejoin="round">
<path d="M518.5,1024.7 C535.1,1026 585.7,1029.7 618.1,1032.6 C650.5,1035.5 681.4,1039.5 713,1042.1 C744.6,1044.7 783.2,1046.6 807.9,1048.4 C832.6,1050.2 852.1,1052.3 861,1053.1" stroke="#808080"/>
<path d="M518.5,1249 C548.8,1248.9 659.8,1248.8 700,1248.5 C740.2,1248.2 743.3,1247.5 760,1247 C776.7,1246.5 788.3,1245.8 800,1245.5 C811.7,1245.2 819.8,1245.1 830,1245.5 C840.2,1245.9 855.8,1247.6 861,1248" stroke="#8b0000"/>
<path d="M518.5,1250 C519.8,1249 519.7,1248.1 526.3,1244 C532.9,1239.9 549.6,1230.9 558.3,1225.3 C567,1219.7 568.5,1216.1 578.3,1210.6 C588.1,1205 607.5,1197.4 617,1192 C626.5,1186.6 626.3,1183.1 635.6,1178 C644.9,1172.9 663.2,1166.1 673,1161.3 C682.8,1156.5 684.5,1154.4 694.3,1149.3 C704.1,1144.2 722,1135.7 731.6,1130.6 C741.2,1125.5 741.8,1124 751.6,1118.5 C761.4,1113 780.3,1102.6 790.3,1097.3 C800.3,1092 804.5,1089.7 811.6,1086.7 C818.7,1083.7 826,1081.1 832.9,1079.5 C839.8,1077.9 849.6,1077.7 852.9,1077.3" stroke="#ff0000" stroke-dasharray="45.9 19.8" stroke-dashoffset="60.5"/>
<path d="M518.5,1249.5 L861,1249.5" stroke="#0000ff"/>
<path d="M518.5,1247.5 L861,1247.5" stroke="#ff00ff" stroke-dasharray="45.9 19.8" stroke-dashoffset="60.5"/>
<path d="M518.5,1184.5 C529.8,1184.2 554.1,1183.2 586.5,1183 C618.9,1182.8 667.2,1183 713,1183 C758.8,1183 836.3,1183.2 861,1183.2" stroke="#ffa500"/>
</g>
<rect x="513.7" y="969.8" width="353" height="283.8" fill="none" stroke="#000" stroke-width="2.4"/>
<line x1="524.2" y1="1253.6" x2="524.2" y2="1264.6" stroke="#000" stroke-width="2.3"/>
<line x1="690" y1="1253.6" x2="690" y2="1264.6" stroke="#000" stroke-width="2.3"/>
<line x1="855.8" y1="1253.6" x2="855.8" y2="1264.6" stroke="#000" stroke-width="2.3"/>
<line x1="502.7" y1="1250.8" x2="513.7" y2="1250.8" stroke="#000" stroke-width="2.3"/>
<text x="489.9" y="1262.1" font-size="31.5" text-anchor="end" font-weight="normal" font-style="normal" font-family='"Liberation Sans", sans-serif' textLength="17.5" lengthAdjust="spacingAndGlyphs">0</text>
<line x1="502.7" y1="1133.8" x2="513.7" y2="1133.8" stroke="#000" stroke-width="2.3"/>
<text x="489.9" y="1145.1" font-size="31.5" text-anchor="end" font-weight="normal" font-style="normal" font-family='"Liberation Sans", sans-serif' textLength="17.5" lengthAdjust="spacingAndGlyphs">2</text>
<line x1="502.7" y1="1016.1" x2="513.7" y2="1016.1" stroke="#000" stroke-width="2.3"/>
<text x="489.9" y="1027.4" font-size="31.5" text-anchor="end" font-weight="normal" font-style="normal" font-family='"Liberation Sans", sans-serif' textLength="17.5" lengthAdjust="spacingAndGlyphs">4</text>
<text x="683.5" y="1003.8" font-size="30.5" text-anchor="start" font-weight="normal" font-style="normal" font-family='"Liberation Sans", sans-serif' textLength="174.4" lengthAdjust="spacingAndGlyphs">RhoM-Sq22</text>
<path d="M520.6,985.1 L532.5,997.1 M532.5,985.1 L520.6,997.1" stroke="#000" stroke-width="2.2" fill="none"/>
<text x="536.9" y="999" font-size="25.7" text-anchor="start" font-weight="normal" font-style="normal" font-family='"Liberation Sans", sans-serif' textLength="31" lengthAdjust="spacingAndGlyphs">10</text>
<text x="569.7" y="990" font-size="18.4" text-anchor="start" font-weight="normal" font-style="normal" font-family='"Liberation Sans", sans-serif' textLength="20.5" lengthAdjust="spacingAndGlyphs">15</text>
<clipPath id="cp22"><rect x="937.2" y="969.8" width="353" height="283.8"/></clipPath>
<rect x="937.2" y="969.8" width="353" height="283.8" fill="#fff"/>
<g clip-path="url(#cp22)" fill="none" stroke-width="12.4" stroke-linejoin="round">
<path d="M942.3,1025.3 C950.3,1026.4 973.4,1030.2 990.3,1032 C1007.2,1033.8 1023.6,1035.1 1043.6,1036 C1063.6,1036.9 1092.5,1036.2 1110.3,1037.3 C1128.1,1038.4 1134.8,1039.8 1150.3,1042.7 C1165.8,1045.6 1188,1051.6 1203.6,1054.7 C1219.1,1057.8 1230.2,1059.8 1243.6,1061.3 C1257,1062.8 1277.3,1063.1 1284,1063.5" stroke="#808080"/>
<path d="M942.5,1249 C950.5,1246.6 973.4,1242.3 990.3,1234.6 C1007.1,1226.9 1025.8,1214.1 1043.6,1202.6 C1061.4,1191 1079.1,1176.4 1096.9,1165.3 C1114.7,1154.2 1132.5,1143.5 1150.3,1136 C1168.1,1128.5 1181.3,1124.9 1203.6,1120 C1225.9,1115.1 1270.6,1108.8 1284,1106.6" stroke="#8b0000"/>
<path d="M942.5,1249 C950.5,1245.7 973.4,1238.4 990.3,1229.3 C1007.1,1220.2 1025.8,1206.6 1043.6,1194.6 C1061.4,1182.6 1079.1,1168.6 1096.9,1157.3 C1114.7,1146 1132.5,1134.8 1150.3,1126.6 C1168.1,1118.4 1181.6,1112.3 1203.6,1108 C1225.5,1103.7 1268.9,1102.2 1282,1101" stroke="#ff0000" stroke-dasharray="45.9 19.8" stroke-dashoffset="60.5"/>
<path d="M942.5,1248 C963.8,1247.4 1035.7,1246 1070.3,1244.5 C1104.9,1243 1114.7,1240.9 1150.3,1239 C1185.9,1237.1 1261.7,1234.2 1284,1233.3" stroke="#0000ff"/>
<path d="M942.5,1247.5 L1284,1247.5" stroke="#ff00ff" stroke-dasharray="45.9 19.8" stroke-dashoffset="60.5"/>
<path d="M942.5,1182.6 C959.1,1182.4 1011.9,1181.8 1042.1,1181.5 C1072.3,1181.2 1097.2,1180.8 1123.6,1180.8 C1150,1180.8 1173.6,1181.3 1200.3,1181.5 C1227,1181.7 1270,1182 1284,1182.1" stroke="#ffa500"/>
</g>
<rect x="937.2" y="969.8" width="353" height="283.8" fill="none" stroke="#000" stroke-width="2.4"/>
<line x1="948" y1="1253.6" x2="948" y2="1264.6" stroke="#000" stroke-width="2.3"/>
<line x1="1113.5" y1="1253.6" x2="1113.5" y2="1264.6" stroke="#000" stroke-width="2.3"/>
<line x1="1279.1" y1="1253.6" x2="1279.1" y2="1264.6" stroke="#000" stroke-width="2.3"/>
<line x1="926.2" y1="1250.8" x2="937.2" y2="1250.8" stroke="#000" stroke-width="2.3"/>
<text x="913.4" y="1262.1" font-size="31.5" text-anchor="end" font-weight="normal" font-style="normal" font-family='"Liberation Sans", sans-serif' textLength="17.5" lengthAdjust="spacingAndGlyphs">0</text>
<line x1="926.2" y1="1130.6" x2="937.2" y2="1130.6" stroke="#000" stroke-width="2.3"/>
<text x="913.4" y="1141.9" font-size="31.5" text-anchor="end" font-weight="normal" font-style="normal" font-family='"Liberation Sans", sans-serif' textLength="17.5" lengthAdjust="spacingAndGlyphs">2</text>
<line x1="926.2" y1="1010.4" x2="937.2" y2="1010.4" stroke="#000" stroke-width="2.3"/>
<text x="913.4" y="1021.7" font-size="31.5" text-anchor="end" font-weight="normal" font-style="normal" font-family='"Liberation Sans", sans-serif' textLength="17.5" lengthAdjust="spacingAndGlyphs">4</text>
<text x="1106.9" y="1003.8" font-size="30.5" text-anchor="start" font-weight="normal" font-style="normal" font-family='"Liberation Sans", sans-serif' textLength="175" lengthAdjust="spacingAndGlyphs">RhoM-Sq22</text>
<path d="M944.1,985.1 L956,997.1 M956,985.1 L944.1,997.1" stroke="#000" stroke-width="2.2" fill="none"/>
<text x="960.4" y="999" font-size="25.7" text-anchor="start" font-weight="normal" font-style="normal" font-family='"Liberation Sans", sans-serif' textLength="31" lengthAdjust="spacingAndGlyphs">10</text>
<text x="993.2" y="990" font-size="18.4" text-anchor="start" font-weight="normal" font-style="normal" font-family='"Liberation Sans", sans-serif' textLength="20.5" lengthAdjust="spacingAndGlyphs">15</text>
<clipPath id="cp30"><rect x="89.7" y="1297" width="353" height="283.8"/></clipPath>
<rect x="89.7" y="1297" width="353" height="283.8" fill="#fff"/>
<g clip-path="url(#cp30)" fill="none" stroke-width="12.4" stroke-linejoin="round">
<path d="M97,1568 C101.3,1565.8 112.9,1558.8 122.9,1555 C132.9,1551.2 142.1,1548.4 156.8,1545.5 C171.5,1542.6 193.3,1537.5 211,1537.4 C228.7,1537.3 249.8,1541.7 263,1544.9 C276.2,1548.1 280.6,1552.5 290.1,1556.4 C299.6,1560.4 310.9,1565.5 319.9,1568.6 C328.9,1571.7 335.8,1575.4 344.3,1575 C352.8,1574.6 364.2,1568.4 371,1566 C377.8,1563.6 378.1,1561.8 385,1560.5 C391.9,1559.2 405.3,1558 412.1,1558.4 C418.9,1558.9 421.1,1560.8 425.6,1563.2 C430.1,1565.6 436.9,1571 439.2,1572.6" stroke="#808080"/>
<path d="M99.5,1491.4 C100.4,1487.1 102.3,1471.7 104.7,1465.5 C107.1,1459.3 109.3,1455.9 113.9,1454.4 C118.5,1452.9 126.2,1453.8 132.4,1456.3 C138.6,1458.8 144.7,1463.7 150.8,1469.2 C157,1474.7 163.1,1481.2 169.3,1489.5 C175.5,1497.8 182.6,1509.8 187.8,1519.1 C193,1528.3 196.9,1536.8 200.7,1545 C204.4,1553.2 208.7,1564.2 210.3,1568 C212.1,1564.8 216.3,1558.6 221,1548.6 C225.7,1538.6 232.5,1521.5 238.5,1508 C244.5,1494.5 250.7,1479.6 256.9,1467.3 C263,1455 269.2,1444.6 275.4,1434.1 C281.6,1423.6 287.7,1413.4 293.9,1404.5 C300.1,1395.6 306.2,1387.3 312.4,1380.5 C318.5,1373.7 324.6,1368.2 330.8,1363.9 C337,1359.6 344.1,1356.6 349.3,1354.7 C354.6,1352.8 357.7,1352.7 362.3,1352.8 C366.9,1352.9 371.5,1353.4 377,1355.6 C382.5,1357.8 389.3,1361.8 395.5,1365.7 C401.7,1369.6 409.7,1374.1 414,1378.7 C418.3,1383.3 419.2,1386.1 421.4,1393.5 C423.5,1400.9 425,1413.2 426.9,1423 C428.8,1432.8 431,1442.8 432.5,1452.6 C434,1462.4 435.5,1477.2 436.1,1482.1" stroke="#8b0000"/>
<path d="M99.5,1495.1 C100.7,1491.7 103.5,1478.9 106.5,1474.7 C109.5,1470.5 113.9,1470.4 117.6,1470.1 C121.3,1469.8 123.2,1469.7 128.7,1472.9 C134.2,1476.1 143.4,1482.4 150.8,1489.5 C158.2,1496.6 166.2,1506.2 173,1515.4 C179.8,1524.7 185.4,1535.1 191.5,1545 C197.6,1554.9 206.5,1570 209.5,1575 C211.4,1571.8 216,1564.1 221,1556 C226,1547.9 233.8,1536.8 239.5,1526.5 C245.2,1516.2 249.5,1505.6 255.5,1494 C261.5,1482.4 269,1468.5 275.4,1457 C281.8,1445.5 287.7,1433.7 293.9,1424.9 C300.1,1416.2 306.2,1409.7 312.4,1404.5 C318.5,1399.3 324.6,1396.3 330.8,1393.5 C337,1390.7 343.8,1388.8 349.3,1387.9 C354.9,1387 358.6,1387 364.1,1387.9 C369.7,1388.8 376.5,1391 382.6,1393.5 C388.8,1396 395.8,1399.3 401,1402.7 C406.2,1406.1 410.6,1409.2 414,1413.8 C417.4,1418.4 419.2,1423.3 421.4,1430.4 C423.5,1437.5 425.2,1446.8 426.9,1456.3 C428.6,1465.8 430.7,1482.5 431.5,1487.7" stroke="#ff0000" stroke-dasharray="45.9 19.8" stroke-dashoffset="62.5"/>
<path d="M97.1,1567.1 C99.1,1565.3 105,1558.1 109.3,1556.2 C113.6,1554.3 117.2,1555.5 122.9,1555.6 C128.6,1555.7 136.4,1556 143.2,1556.9 C150,1557.8 156.7,1559.4 163.5,1561 C170.3,1562.6 176,1564.6 183.9,1566.4 C191.8,1568.2 201.7,1571.1 211,1572 C220.3,1572.9 232.1,1572.2 240,1572 C247.9,1571.8 253.4,1570.5 258.4,1570.5 C263.4,1570.5 266.5,1571.2 270,1572 C273.5,1572.8 274.3,1574.5 279.3,1575 C284.3,1575.5 289.9,1575.8 300,1575 C310.1,1574.2 328.1,1572.1 340,1570 C351.9,1567.9 359.4,1563.9 371.4,1562.5 C383.4,1561.1 403.1,1561.4 412.1,1561.8 C421.1,1562.2 421.1,1563.2 425.6,1565 C430.1,1566.8 436.9,1571.3 439.2,1572.6" stroke="#0000ff"/>
<path d="M96,1577.4 L437,1577.4" stroke="#ff00ff" stroke-dasharray="45.9 19.8" stroke-dashoffset="62.5"/>
<path d="M94.4,1577.4 C102.5,1576.8 123.8,1575.2 143.2,1573.9 C162.6,1572.6 191,1569.3 211,1569.3 C231,1569.3 251.6,1572.7 263,1574 C274.4,1575.3 270.3,1578.1 279.3,1577.4 C288.3,1576.7 304.1,1572.1 317.2,1569.9 C330.3,1567.8 344.3,1565.4 357.9,1564.5 C371.4,1563.6 388.3,1564 398.5,1564.5 C408.7,1565 412.3,1565.3 418.9,1567.2 C425.4,1569.1 434.6,1574.5 437.8,1575.9" stroke="#ffa500"/>
</g>
<rect x="89.7" y="1297" width="353" height="283.8" fill="none" stroke="#000" stroke-width="2.4"/>
<line x1="128.7" y1="1580.8" x2="128.7" y2="1591.8" stroke="#000" stroke-width="2.3"/>
<line x1="211.2" y1="1580.8" x2="211.2" y2="1591.8" stroke="#000" stroke-width="2.3"/>
<line x1="293.8" y1="1580.8" x2="293.8" y2="1591.8" stroke="#000" stroke-width="2.3"/>
<line x1="376.3" y1="1580.8" x2="376.3" y2="1591.8" stroke="#000" stroke-width="2.3"/>
<line x1="78.7" y1="1577.7" x2="89.7" y2="1577.7" stroke="#000" stroke-width="2.3"/>
<text x="65.9" y="1589" font-size="31.5" text-anchor="end" font-weight="normal" font-style="normal" font-family='"Liberation Sans", sans-serif' textLength="17.5" lengthAdjust="spacingAndGlyphs">0</text>
<line x1="78.7" y1="1486.2" x2="89.7" y2="1486.2" stroke="#000" stroke-width="2.3"/>
<text x="65.9" y="1497.5" font-size="31.5" text-anchor="end" font-weight="normal" font-style="normal" font-family='"Liberation Sans", sans-serif' textLength="17.5" lengthAdjust="spacingAndGlyphs">2</text>
<line x1="78.7" y1="1394.4" x2="89.7" y2="1394.4" stroke="#000" stroke-width="2.3"/>
<text x="65.9" y="1405.7" font-size="31.5" text-anchor="end" font-weight="normal" font-style="normal" font-family='"Liberation Sans", sans-serif' textLength="17.5" lengthAdjust="spacingAndGlyphs">4</text>
<text x="310.4" y="1331" font-size="30.5" text-anchor="start" font-weight="normal" font-style="normal" font-family='"Liberation Sans", sans-serif' textLength="116.6" lengthAdjust="spacingAndGlyphs">CoM-Tri</text>
<path d="M96.6,1312.3 L108.5,1324.3 M108.5,1312.3 L96.6,1324.3" stroke="#000" stroke-width="2.2" fill="none"/>
<text x="112.9" y="1326.2" font-size="25.7" text-anchor="start" font-weight="normal" font-style="normal" font-family='"Liberation Sans", sans-serif' textLength="31" lengthAdjust="spacingAndGlyphs">10</text>
<text x="145.7" y="1317.2" font-size="18.4" text-anchor="start" font-weight="normal" font-style="normal" font-family='"Liberation Sans", sans-serif' textLength="20.5" lengthAdjust="spacingAndGlyphs">18</text>
<clipPath id="cp31"><rect x="513.7" y="1297" width="353" height="283.8"/></clipPath>
<rect x="513.7" y="1297" width="353" height="283.8" fill="#fff"/>
<g clip-path="url(#cp31)" fill="none" stroke-width="12.4" stroke-linejoin="round">
<path d="M518.5,1352.6 C524.6,1353.2 543.6,1353.7 554.9,1356.4 C566.2,1359.2 576,1363.3 586.5,1369.1 C597,1374.9 607.6,1382.8 618.1,1391.2 C628.6,1399.6 639.2,1409.4 649.8,1419.7 C660.3,1430 670.9,1441.7 681.4,1453 C691.9,1464.3 705.3,1479.1 713,1487.5 C720.7,1495.9 720.7,1495.8 727.7,1503.5 C734.7,1511.2 745.8,1523.5 754.8,1533.5 C763.8,1543.5 776.7,1557.4 781.9,1563.5 C787.1,1569.6 785.3,1569.2 786,1570.3 C791.7,1569.6 809.4,1567.6 820,1566 C830.6,1564.4 842.8,1562 849.6,1560.8 C856.4,1559.6 859.1,1559.1 861,1558.8" stroke="#808080"/>
<path d="M518.5,1573 C526.6,1571.7 550.1,1568.3 567.2,1564.9 C584.4,1561.5 601.4,1556.8 621.4,1552.7 C641.4,1548.6 669.3,1543.7 687,1540.5 C704.7,1537.3 714.2,1535.4 727.7,1533.7 C741.2,1532 754.8,1531 768.3,1530.3 C781.8,1529.6 797.7,1529.4 809,1529.6 C820.3,1529.8 829.3,1530.3 836.1,1531.7 C842.9,1533.1 845.5,1535.1 849.6,1537.8 C853.7,1540.5 858.7,1546.2 860.5,1547.9" stroke="#8b0000"/>
<path d="M518.5,1576 C529.8,1575 563.7,1571.1 586.5,1570 C609.3,1568.9 637.4,1570 655.3,1569.6 C673.2,1569.2 679,1567.8 693.8,1567.6 C708.6,1567.4 726.2,1568.7 743.9,1568.4 C761.6,1568.1 784,1566.1 800,1565.7 C816,1565.3 830.2,1565 840,1566 C849.8,1567 855.8,1571 859,1572" stroke="#ff0000" stroke-dasharray="45.9 19.8" stroke-dashoffset="60.5"/>
<path d="M518.5,1577.5 L861,1577.5" stroke="#0000ff"/>
<path d="M518.5,1578 C523.8,1577.7 541.4,1576.8 550,1576 C558.6,1575.2 563.4,1574.5 569.9,1573.1 C576.4,1571.7 578.5,1570.8 588.9,1567.6 C599.3,1564.4 622.4,1557.7 632.3,1554 C642.2,1550.3 639.4,1549.9 648.5,1545.2 C657.6,1540.5 677,1530.6 687,1525.6 C697,1520.6 697.6,1519.6 708.7,1515.4 C719.8,1511.2 742.8,1504 753.4,1500.5 C764,1497 765.4,1495.7 772.4,1494.4 C779.4,1493.1 787.8,1492.8 795.4,1492.5 C803,1492.2 810.8,1491.6 817.8,1492.4 C824.8,1493.2 832.1,1495 837.4,1497.1 C842.7,1499.2 845.8,1501.6 849.6,1505.2 C853.5,1508.8 858.7,1516.5 860.5,1518.8" stroke="#ff00ff" stroke-dasharray="45.9 19.8" stroke-dashoffset="60.5"/>
<path d="M518.4,1547.3 C526.5,1547.8 550,1547.8 567.2,1550.6 C584.4,1553.4 604.2,1560.5 621.4,1564.2 C638.6,1567.9 659.3,1571.8 670.2,1573 C681.1,1574.2 679.7,1573.3 687,1571.7 C694.3,1570.1 702.8,1566.2 714.1,1563.5 C725.4,1560.8 741.2,1557.1 754.8,1555.4 C768.3,1553.7 781.8,1553.6 795.4,1553.4 C809,1553.2 827.1,1553.5 836.1,1554 C845.1,1554.5 845.8,1555.1 849.6,1556.7 C853.4,1558.3 857.5,1562.4 859.1,1563.5" stroke="#ffa500"/>
</g>
<rect x="513.7" y="1297" width="353" height="283.8" fill="none" stroke="#000" stroke-width="2.4"/>
<line x1="524.2" y1="1580.8" x2="524.2" y2="1591.8" stroke="#000" stroke-width="2.3"/>
<line x1="690" y1="1580.8" x2="690" y2="1591.8" stroke="#000" stroke-width="2.3"/>
<line x1="855.8" y1="1580.8" x2="855.8" y2="1591.8" stroke="#000" stroke-width="2.3"/>
<line x1="502.7" y1="1577.8" x2="513.7" y2="1577.8" stroke="#000" stroke-width="2.3"/>
<text x="489.9" y="1589.1" font-size="31.5" text-anchor="end" font-weight="normal" font-style="normal" font-family='"Liberation Sans", sans-serif' textLength="17.5" lengthAdjust="spacingAndGlyphs">0</text>
<line x1="502.7" y1="1360.2" x2="513.7" y2="1360.2" stroke="#000" stroke-width="2.3"/>
<text x="489.9" y="1371.5" font-size="31.5" text-anchor="end" font-weight="normal" font-style="normal" font-family='"Liberation Sans", sans-serif' textLength="17.5" lengthAdjust="spacingAndGlyphs">2</text>
<text x="739.8" y="1331" font-size="30.5" text-anchor="start" font-weight="normal" font-style="normal" font-family='"Liberation Sans", sans-serif' textLength="116.5" lengthAdjust="spacingAndGlyphs">CoM-Sq</text>
<path d="M520.6,1312.3 L532.5,1324.3 M532.5,1312.3 L520.6,1324.3" stroke="#000" stroke-width="2.2" fill="none"/>
<text x="536.9" y="1326.2" font-size="25.7" text-anchor="start" font-weight="normal" font-style="normal" font-family='"Liberation Sans", sans-serif' textLength="31" lengthAdjust="spacingAndGlyphs">10</text>
<text x="569.7" y="1317.2" font-size="18.4" text-anchor="start" font-weight="normal" font-style="normal" font-family='"Liberation Sans", sans-serif' textLength="20.5" lengthAdjust="spacingAndGlyphs">18</text>
<clipPath id="cp32"><rect x="937.2" y="1297" width="353" height="283.8"/></clipPath>
<rect x="937.2" y="1297" width="353" height="283.8" fill="#fff"/>
<g clip-path="url(#cp32)" fill="none" stroke-width="12.4" stroke-linejoin="round">
<path d="M942.4,1461 C946,1461.2 956,1460.7 964.1,1462.4 C972.2,1464.1 982.2,1467.2 991.2,1471.2 C1000.2,1475.2 1009.3,1480.4 1018.3,1486.1 C1027.3,1491.8 1036.4,1498.3 1045.4,1505.1 C1054.4,1511.9 1065.7,1521.1 1072.5,1526.7 C1079.3,1532.3 1081.2,1533.8 1086.5,1538.8 C1091.8,1543.8 1097.4,1551.7 1104.2,1556.5 C1111,1561.3 1123.4,1565.7 1127.2,1567.5 C1132.2,1565.1 1147.8,1558.1 1157.3,1553 C1166.8,1547.9 1173.6,1542 1183.9,1537 C1194.2,1532 1208.1,1526.1 1219.3,1522.9 C1230.5,1519.7 1242.8,1517 1251.1,1517.6 C1259.3,1518.2 1264,1521.4 1268.8,1526.4 C1273.6,1531.4 1278.1,1544.2 1280,1547.7" stroke="#808080"/>
<path d="M942.4,1574.2 C952.8,1572.6 987.6,1567.4 1004.8,1564.7 C1022,1562 1036.2,1559.3 1045.4,1557.9 C1054.6,1556.5 1048.7,1557.3 1060,1556.5 C1071.3,1555.7 1095.4,1553.9 1113.1,1553 C1130.8,1552.1 1148.5,1551.4 1166.2,1551.2 C1183.9,1551 1203.7,1551.6 1219.3,1552.1 C1234.9,1552.5 1251.2,1552.9 1260,1553.9 C1268.8,1554.9 1268.7,1556.5 1272.4,1558.3 C1276.1,1560.1 1280.4,1563.9 1282,1565" stroke="#8b0000"/>
<path d="M942.5,1576 C950.4,1575 972.9,1571.8 990,1570 C1007.1,1568.2 1027.1,1566.4 1045.4,1565.4 C1063.7,1564.4 1079.5,1564.2 1099.6,1563.8 C1119.7,1563.3 1145.9,1563 1166,1562.7 C1186.1,1562.4 1204.3,1561.9 1220,1561.8 C1235.7,1561.7 1249.8,1561 1260,1562 C1270.2,1563 1277.5,1567 1281,1568" stroke="#ff0000" stroke-dasharray="45.9 19.8" stroke-dashoffset="60.5"/>
<path d="M942.5,1577.5 C946.2,1576.9 957.9,1576.1 965,1574 C972.1,1571.9 977.4,1570 985,1565 C992.6,1560 1001,1553.2 1010.5,1544 C1020,1534.8 1031.5,1522 1042.1,1510 C1052.6,1498 1063.2,1484.7 1073.8,1472 C1084.3,1459.3 1094.9,1446.3 1105.4,1434 C1115.9,1421.7 1126.9,1408.2 1137,1398 C1147.1,1387.8 1155.4,1379.7 1166.2,1372.5 C1177,1365.3 1193.6,1358 1201.6,1354.8 C1209.6,1351.5 1209.6,1353 1214,1353 C1218.4,1353 1222.8,1353.9 1228.1,1354.8 C1233.4,1355.7 1240.5,1355.9 1245.8,1358.3 C1251.1,1360.7 1256.2,1363.9 1260,1368.9 C1263.8,1373.9 1266.5,1380.7 1268.8,1388.4 C1271.1,1396.1 1272.3,1401.9 1274.1,1414.9 C1275.9,1427.9 1278.5,1457.7 1279.4,1466.3" stroke="#0000ff"/>
<path d="M942.5,1577.7 L1282,1577.7" stroke="#ff00ff" stroke-dasharray="45.9 19.8" stroke-dashoffset="60.5"/>
<path d="M942.4,1562 C947.1,1562.1 960.5,1561.6 970.9,1562.7 C981.3,1563.8 993.5,1566.7 1004.8,1568.8 C1016.1,1570.9 1028.5,1574.2 1038.7,1575.5 C1048.9,1576.8 1053.4,1576.7 1065.8,1576.5 C1078.2,1576.3 1099.3,1575.2 1113.1,1574.2 C1126.9,1573.2 1133.8,1572.5 1148.5,1570.7 C1163.2,1568.9 1183.9,1565.1 1201.6,1563.6 C1219.3,1562.1 1242.9,1561.5 1254.7,1561.8 C1266.5,1562.1 1267.9,1563.6 1272.4,1565.4 C1277,1567.2 1280.4,1571.2 1282,1572.4" stroke="#ffa500"/>
</g>
<rect x="937.2" y="1297" width="353" height="283.8" fill="none" stroke="#000" stroke-width="2.4"/>
<line x1="948" y1="1580.8" x2="948" y2="1591.8" stroke="#000" stroke-width="2.3"/>
<line x1="1113.5" y1="1580.8" x2="1113.5" y2="1591.8" stroke="#000" stroke-width="2.3"/>
<line x1="1279.1" y1="1580.8" x2="1279.1" y2="1591.8" stroke="#000" stroke-width="2.3"/>
<line x1="926.2" y1="1577.8" x2="937.2" y2="1577.8" stroke="#000" stroke-width="2.3"/>
<text x="913.4" y="1589.1" font-size="31.5" text-anchor="end" font-weight="normal" font-style="normal" font-family='"Liberation Sans", sans-serif' textLength="17.5" lengthAdjust="spacingAndGlyphs">0</text>
<line x1="926.2" y1="1464.9" x2="937.2" y2="1464.9" stroke="#000" stroke-width="2.3"/>
<text x="913.4" y="1476.2" font-size="31.5" text-anchor="end" font-weight="normal" font-style="normal" font-family='"Liberation Sans", sans-serif' textLength="17.5" lengthAdjust="spacingAndGlyphs">2</text>
<line x1="926.2" y1="1352.3" x2="937.2" y2="1352.3" stroke="#000" stroke-width="2.3"/>
<text x="913.4" y="1363.6" font-size="31.5" text-anchor="end" font-weight="normal" font-style="normal" font-family='"Liberation Sans", sans-serif' textLength="17.5" lengthAdjust="spacingAndGlyphs">4</text>
<text x="1163.8" y="1331" font-size="30.5" text-anchor="start" font-weight="normal" font-style="normal" font-family='"Liberation Sans", sans-serif' textLength="116.5" lengthAdjust="spacingAndGlyphs">CoM-Sq</text>
<path d="M944.1,1312.3 L956,1324.3 M956,1312.3 L944.1,1324.3" stroke="#000" stroke-width="2.2" fill="none"/>
<text x="960.4" y="1326.2" font-size="25.7" text-anchor="start" font-weight="normal" font-style="normal" font-family='"Liberation Sans", sans-serif' textLength="31" lengthAdjust="spacingAndGlyphs">10</text>
<text x="993.2" y="1317.2" font-size="18.4" text-anchor="start" font-weight="normal" font-style="normal" font-family='"Liberation Sans", sans-serif' textLength="20.5" lengthAdjust="spacingAndGlyphs">18</text>
<text x="87.6" y="1624.8" font-size="31.5" text-anchor="start" font-weight="normal" font-style="normal" font-family='"Liberation Sans", sans-serif' textLength="79.4" lengthAdjust="spacingAndGlyphs">-0.25</text>
<text x="200.6" y="1624.8" font-size="31.5" text-anchor="start" font-weight="normal" font-style="normal" font-family='"Liberation Sans", sans-serif' textLength="19.1" lengthAdjust="spacingAndGlyphs">0</text>
<text x="259.3" y="1624.8" font-size="31.5" text-anchor="start" font-weight="normal" font-style="normal" font-family='"Liberation Sans", sans-serif' textLength="66.7" lengthAdjust="spacingAndGlyphs">0.25</text>
<text x="352.7" y="1624.8" font-size="31.5" text-anchor="start" font-weight="normal" font-style="normal" font-family='"Liberation Sans", sans-serif' textLength="47.2" lengthAdjust="spacingAndGlyphs">0.5</text>
<text x="515.4" y="1624.8" font-size="31.5" text-anchor="start" font-weight="normal" font-style="normal" font-family='"Liberation Sans", sans-serif' textLength="18.7" lengthAdjust="spacingAndGlyphs">0</text>
<text x="656.1" y="1624.8" font-size="31.5" text-anchor="start" font-weight="normal" font-style="normal" font-family='"Liberation Sans", sans-serif' textLength="66.8" lengthAdjust="spacingAndGlyphs">0.25</text>
<text x="830.7" y="1624.8" font-size="31.5" text-anchor="start" font-weight="normal" font-style="normal" font-family='"Liberation Sans", sans-serif' textLength="48.1" lengthAdjust="spacingAndGlyphs">0.5</text>
<text x="939.3" y="1624.8" font-size="31.5" text-anchor="start" font-weight="normal" font-style="normal" font-family='"Liberation Sans", sans-serif' textLength="19.1" lengthAdjust="spacingAndGlyphs">0</text>
<text x="1080.1" y="1624.8" font-size="31.5" text-anchor="start" font-weight="normal" font-style="normal" font-family='"Liberation Sans", sans-serif' textLength="67.4" lengthAdjust="spacingAndGlyphs">0.25</text>
<text x="1255.1" y="1624.8" font-size="31.5" text-anchor="start" font-weight="normal" font-style="normal" font-family='"Liberation Sans", sans-serif' textLength="48.1" lengthAdjust="spacingAndGlyphs">0.5</text>
<text x="201" y="1668" font-size="31.5" font-family='"Liberation Sans", sans-serif' textLength="131" lengthAdjust="spacingAndGlyphs"><tspan font-style="italic">P</tspan>/<tspan font-style="italic">h</tspan> [nm]</text>
<text x="625" y="1668" font-size="31.5" font-family='"Liberation Sans", sans-serif' textLength="133" lengthAdjust="spacingAndGlyphs"><tspan font-style="italic">x</tspan>/<tspan font-style="italic">a</tspan> [nm]</text>
<text x="1007" y="1668" font-size="31.5" font-family='"Liberation Sans", sans-serif' textLength="218" lengthAdjust="spacingAndGlyphs"><tspan font-style="italic">x</tspan>/<tspan font-style="italic">a</tspan> = <tspan font-style="italic">y</tspan>/<tspan font-style="italic">a</tspan> [nm]</text>
<g transform="translate(0,1.8) rotate(-90)">
<text x="-580.9" y="26.5" font-size="31.5" text-anchor="middle" font-family='"Liberation Sans", sans-serif'>|</text>
<text x="-510.7" y="26.5" font-size="31.5" text-anchor="middle" font-family='"Liberation Sans", sans-serif'>|</text>
<text x="-489.7" y="26.5" font-size="31.5" text-anchor="middle" font-family='"Liberation Sans", sans-serif'>|</text>
<text x="-460.1" y="26.5" font-size="31.5" text-anchor="middle" font-family='"Liberation Sans", sans-serif'>|</text>
<text x="-574.8" y="26.5" font-size="31.5" font-style="italic" font-family='"Liberation Sans", sans-serif' textLength="19" lengthAdjust="spacingAndGlyphs">&#945;</text>
<text x="-555" y="31" font-size="22" font-style="italic" font-family='"Liberation Sans", sans-serif' textLength="36" lengthAdjust="spacingAndGlyphs">l,m</text>
<text x="-500.4" y="26.5" font-size="31.5" text-anchor="middle" font-family='"Liberation Sans", sans-serif'>/</text>
<text x="-485.5" y="26.5" font-size="31.5" font-style="italic" font-family='"Liberation Sans", sans-serif' textLength="19" lengthAdjust="spacingAndGlyphs">&#956;</text>
<text x="-443.5" y="26.5" font-size="31.5" font-family='"Liberation Sans", sans-serif' textLength="117" lengthAdjust="spacingAndGlyphs">[1/C.m]</text>
</g>
<g transform="translate(0,328.9) rotate(-90)">
<text x="-580.9" y="26.5" font-size="31.5" text-anchor="middle" font-family='"Liberation Sans", sans-serif'>|</text>
<text x="-510.7" y="26.5" font-size="31.5" text-anchor="middle" font-family='"Liberation Sans", sans-serif'>|</text>
<text x="-489.7" y="26.5" font-size="31.5" text-anchor="middle" font-family='"Liberation Sans", sans-serif'>|</text>
<text x="-460.1" y="26.5" font-size="31.5" text-anchor="middle" font-family='"Liberation Sans", sans-serif'>|</text>
<text x="-574.8" y="26.5" font-size="31.5" font-style="italic" font-family='"Liberation Sans", sans-serif' textLength="19" lengthAdjust="spacingAndGlyphs">&#945;</text>
<text x="-555" y="31" font-size="22" font-style="italic" font-family='"Liberation Sans", sans-serif' textLength="36" lengthAdjust="spacingAndGlyphs">l,m</text>
<text x="-500.4" y="26.5" font-size="31.5" text-anchor="middle" font-family='"Liberation Sans", sans-serif'>/</text>
<text x="-485.5" y="26.5" font-size="31.5" font-style="italic" font-family='"Liberation Sans", sans-serif' textLength="19" lengthAdjust="spacingAndGlyphs">&#956;</text>
<text x="-443.5" y="26.5" font-size="31.5" font-family='"Liberation Sans", sans-serif' textLength="117" lengthAdjust="spacingAndGlyphs">[1/C.m]</text>
</g>
<g transform="translate(0,655.7) rotate(-90)">
<text x="-580.9" y="26.5" font-size="31.5" text-anchor="middle" font-family='"Liberation Sans", sans-serif'>|</text>
<text x="-510.7" y="26.5" font-size="31.5" text-anchor="middle" font-family='"Liberation Sans", sans-serif'>|</text>
<text x="-489.7" y="26.5" font-size="31.5" text-anchor="middle" font-family='"Liberation Sans", sans-serif'>|</text>
<text x="-460.1" y="26.5" font-size="31.5" text-anchor="middle" font-family='"Liberation Sans", sans-serif'>|</text>
<text x="-574.8" y="26.5" font-size="31.5" font-style="italic" font-family='"Liberation Sans", sans-serif' textLength="19" lengthAdjust="spacingAndGlyphs">&#945;</text>
<text x="-555" y="31" font-size="22" font-style="italic" font-family='"Liberation Sans", sans-serif' textLength="36" lengthAdjust="spacingAndGlyphs">l,m</text>
<text x="-500.4" y="26.5" font-size="31.5" text-anchor="middle" font-family='"Liberation Sans", sans-serif'>/</text>
<text x="-485.5" y="26.5" font-size="31.5" font-style="italic" font-family='"Liberation Sans", sans-serif' textLength="19" lengthAdjust="spacingAndGlyphs">&#956;</text>
<text x="-443.5" y="26.5" font-size="31.5" font-family='"Liberation Sans", sans-serif' textLength="117" lengthAdjust="spacingAndGlyphs">[1/C.m]</text>
</g>
<g transform="translate(0,982.9) rotate(-90)">
<text x="-580.9" y="26.5" font-size="31.5" text-anchor="middle" font-family='"Liberation Sans", sans-serif'>|</text>
<text x="-510.7" y="26.5" font-size="31.5" text-anchor="middle" font-family='"Liberation Sans", sans-serif'>|</text>
<text x="-489.7" y="26.5" font-size="31.5" text-anchor="middle" font-family='"Liberation Sans", sans-serif'>|</text>
<text x="-460.1" y="26.5" font-size="31.5" text-anchor="middle" font-family='"Liberation Sans", sans-serif'>|</text>
<text x="-574.8" y="26.5" font-size="31.5" font-style="italic" font-family='"Liberation Sans", sans-serif' textLength="19" lengthAdjust="spacingAndGlyphs">&#945;</text>
<text x="-555" y="31" font-size="22" font-style="italic" font-family='"Liberation Sans", sans-serif' textLength="36" lengthAdjust="spacingAndGlyphs">l,m</text>
<text x="-500.4" y="26.5" font-size="31.5" text-anchor="middle" font-family='"Liberation Sans", sans-serif'>/</text>
<text x="-485.5" y="26.5" font-size="31.5" font-style="italic" font-family='"Liberation Sans", sans-serif' textLength="19" lengthAdjust="spacingAndGlyphs">&#956;</text>
<text x="-443.5" y="26.5" font-size="31.5" font-family='"Liberation Sans", sans-serif' textLength="117" lengthAdjust="spacingAndGlyphs">[1/C.m]</text>
</g>
</svg></body></html>
